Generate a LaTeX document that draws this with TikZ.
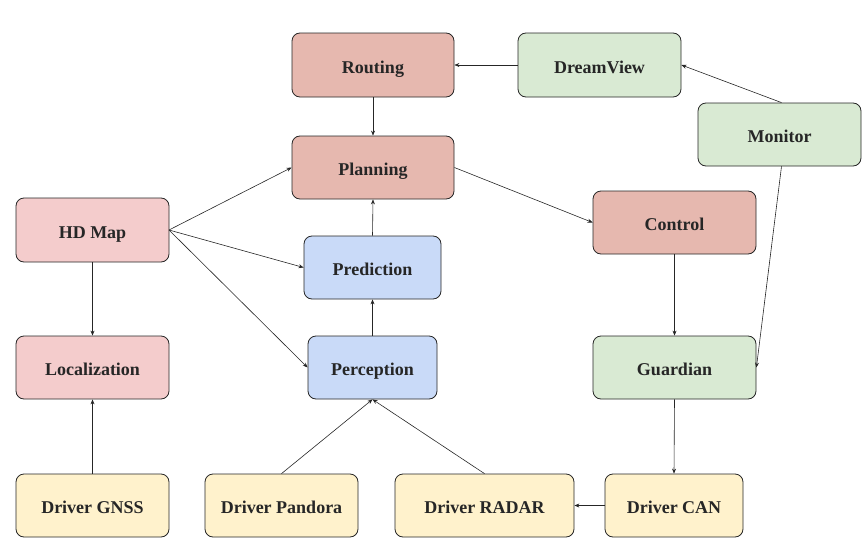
\documentclass[tikz,border=0pt]{standalone}
\usepackage{fontspec}
\setmainfont{Liberation Serif}
\usetikzlibrary{arrows.meta}
\definecolor{cred}{HTML}{E6B8AF}
\definecolor{cpink}{HTML}{F4CCCC}
\definecolor{cblue}{HTML}{C9DAF8}
\definecolor{cgreen}{HTML}{D9EAD3}
\definecolor{cyellow}{HTML}{FFF2CC}
\tikzset{
  box/.style={draw=black!85, line width=0.8pt, rounded corners=8pt, font=\fontsize{18}{20}\selectfont\bfseries, text=black!85, inner sep=0pt, text height=16pt, text depth=0pt},
  conn/.style={-{Stealth[length=5pt,width=4pt]}, line width=0.6pt, black!85},
}
\newcommand{\bx}[7]{\node[box, fill=#7, minimum width=#4pt, minimum height=#5pt] (#1) at (#2,#3) {#6};}
\begin{document}
\begin{tikzpicture}[x=1pt,y=-1pt]
\useasboundingbox (0,0) rectangle (868,546);
\bx{routing}{373}{65}{162}{64}{Routing}{cred}
\bx{dream}{599.5}{65}{163}{64}{DreamView}{cgreen}
\bx{monitor}{779.5}{134.5}{163}{63}{Monitor}{cgreen}
\bx{planning}{373}{167.5}{162}{63}{Planning}{cred}
\bx{hdmap}{92.5}{230}{153}{64}{HD Map}{cpink}
\bx{control}{674.5}{222.5}{163}{63}{Control}{cred}
\bx{prediction}{372.5}{267.5}{137}{63}{Prediction}{cblue}
\bx{local}{92.5}{367.5}{153}{63}{Localization}{cpink}
\bx{perception}{372.5}{367.5}{129}{63}{Perception}{cblue}
\bx{guardian}{674.5}{367.5}{163}{63}{Guardian}{cgreen}
\bx{gnss}{92.5}{505.5}{153}{63}{Driver GNSS}{cyellow}
\bx{pandora}{281.5}{505.5}{153}{63}{Driver Pandora}{cyellow}
\bx{radar}{484.5}{505.5}{179}{63}{Driver RADAR}{cyellow}
\bx{can}{674}{505.5}{138}{63}{Driver CAN}{cyellow}
\coordinate (hdr) at (169,230);
\draw[conn] (dream.west) -- (routing.east);
\draw[conn] ([xshift=2pt]monitor.north) -- (dream.east);
\draw[conn] ([xshift=2pt]monitor.south) -- (guardian.east);
\draw[conn] (routing.south) -- (planning.north);
\draw[conn] (planning.east) -- (control.west);
\draw[conn] (hdr) -- (planning.west);
\draw[conn] (hdr) -- (prediction.west);
\draw[conn] (hdr) -- (perception.west);
\draw[conn] (hdmap.south) -- (local.north);
\draw[conn] (prediction.north) -- (planning.south);
\draw[conn] (perception.north) -- (prediction.south);
\draw[conn] (gnss.north) -- (local.south);
\draw[conn] (pandora.north) -- (perception.south);
\draw[conn] (radar.north) -- (perception.south);
\draw[conn] (control.south) -- (guardian.north);
\draw[conn] (guardian.south) -- (can.north);
\draw[conn] (can.west) -- (radar.east);
\end{tikzpicture}
\end{document}
